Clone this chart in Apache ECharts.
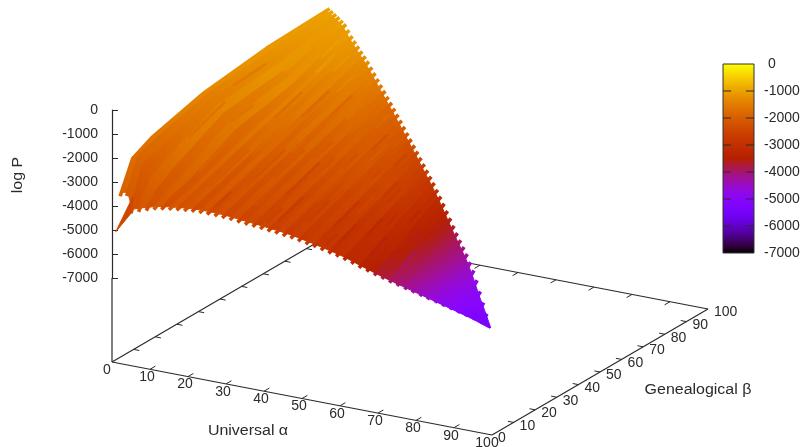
<!DOCTYPE html>
<html><head><meta charset="utf-8">
<style>html,body{margin:0;padding:0;background:#fff}#c{width:806px;height:447px}</style>
<script src="https://cdn.jsdelivr.net/npm/echarts@6/dist/echarts.min.js"></script>
</head><body><div id="c"></div>
<script>
// ---- values ----
const alphaTicks=[0,10,20,30,40,50,60,70,80,90,100];
const betaTicks=[0,10,20,30,40,50,60,70,80,90,100];
const logPTicks=[0,-1000,-2000,-3000,-4000,-5000,-6000,-7000];
// each streak is one universal-alpha value, running from its start beta up to beta = 100 - alpha
const streakAlpha=[1,3,5,7,9,11,13,15,17,19,21,23,25,27,29,31,33,35,37,39,41,43,45,47,49,51,53,55,57,59,61,63,65,67,69,71,73,75,77,79,81,83,85,87,89,91,93,95,97,99];
const streakBetaStart=[2,1.5];
const logPKnotAt=[0,.06,.15,.4,.7,1];
const streakLogP=[
[-3670,-2400,-2000,-1400,-1060,-950],[-3570,-2204,-1946,-1325,-1075,-900],[-4150,-2440,-2181,-1385,-1173,-850],
[-4030,-2999,-2520,-1575,-1329,-810],[-3920,-3346,-2858,-1804,-1488,-785],[-3820,-3488,-3158,-2037,-1646,-770],
[-3750,-3504,-3287,-2304,-1800,-850],[-3700,-3550,-3380,-2620,-1900,-930],[-3660,-3499,-3258,-2588,-1784,-980],
[-3630,-3474,-3240,-2590,-1810,-1030],[-3600,-3448,-3220,-2588,-1829,-1070],[-3590,-3442,-3219,-2600,-1858,-1115],
[-3590,-3444,-3226,-2618,-1889,-1160],[-3600,-3458,-3246,-2656,-1948,-1240],[-3620,-3482,-3275,-2700,-2010,-1320],
[-3640,-3506,-3304,-2744,-2072,-1400],[-3680,-3548,-3350,-2800,-2140,-1480],[-3710,-3581,-3388,-2850,-2205,-1560],
[-3740,-3614,-3425,-2900,-2270,-1640],[-3770,-3647,-3463,-2950,-2335,-1720],[-3810,-3689,-3509,-3006,-2403,-1800],
[-3840,-3723,-3547,-3058,-2472,-1885],[-3880,-3765,-3594,-3116,-2543,-1970],[-3920,-3808,-3641,-3176,-2618,-2060],
[-3980,-3871,-3706,-3250,-2703,-2155],[-4040,-3932,-3771,-3322,-2784,-2245],[-4100,-3994,-3836,-3396,-2868,-2340],
[-4170,-4066,-3909,-3474,-2952,-2430],[-4240,-4137,-3983,-3554,-3040,-2525],[-4310,-4209,-4057,-3634,-3127,-2620],
[-4390,-4290,-4139,-3720,-3218,-2715],[-4490,-4389,-4238,-3818,-3314,-2810],[-4600,-4498,-4345,-3920,-3410,-2900],
[-4690,-4590,-4440,-4022,-3521,-3020],[-4790,-4691,-4543,-4130,-3635,-3140],[-4880,-4783,-4639,-4236,-3753,-3270],
[-4970,-4876,-4736,-4346,-3878,-3410],[-5050,-4960,-4825,-4450,-4000,-3550],[-5130,-5044,-4914,-4554,-4122,-3690],
[-5210,-5127,-5003,-4658,-4244,-3830],[-5290,-5210,-5091,-4758,-4359,-3960],[-5370,-5293,-5177,-4854,-4467,-4080],
[-5450,-5375,-5263,-4950,-4575,-4200],[-5530,-5461,-5358,-5070,-4725,-4380],[-5610,-5547,-5453,-5190,-4875,-4560],
[-5690,-5637,-5557,-5334,-5067,-4800],[-5770,-5730,-5670,-5502,-5301,-5100],[-5850,-5823,-5783,-5670,-5535,-5400],
[-5950,-5935,-5913,-5850,-5775,-5700],[-6050,-6048,-6046,-6044,-6042,-6040]];
const toneKnotAt=[0,.33,.66,1];
const streakTone=[
[-1950,-1480,-1180,-1000],[-2050,-1620,-1250,-1000],[-2300,-1700,-1330,-1020],[-2150,-1560,-1190,-1040],[-2280,-1790,-1420,-1000],
[-2100,-1700,-1280,-1080],[-2320,-1950,-1520,-1030],[-2120,-1780,-1400,-1090],[-2250,-2000,-1500,-1120],[-2180,-1830,-1600,-1180],
[-2380,-2080,-1490,-1200],[-2220,-1900,-1680,-1280],[-2420,-2130,-1720,-1300],[-2300,-2020,-1610,-1390],[-2480,-2210,-1850,-1420],
[-2350,-2060,-1740,-1530],[-2520,-2290,-1930,-1560],[-2420,-2150,-1860,-1680],[-2580,-2360,-2030,-1700],[-2470,-2240,-1960,-1820],
[-2640,-2430,-2120,-1840],[-2550,-2320,-2060,-1960],[-2720,-2510,-2210,-1980],[-2640,-2420,-2160,-2090],[-2800,-2600,-2340,-2130],
[-2720,-2520,-2280,-2260],[-2920,-2730,-2480,-2300],[-2850,-2680,-2450,-2430],[-3060,-2900,-2660,-2480],[-3010,-2860,-2620,-2610],
[-3230,-3080,-2850,-2680],[-3200,-3060,-2890,-2790],[-3450,-3240,-3060,-2880],[-3480,-3300,-3120,-3030],[-3720,-3510,-3330,-3120],
[-3790,-3560,-3400,-3280],[-3980,-3750,-3560,-3430],[-4080,-3840,-3660,-3560],[-4250,-4000,-3830,-3680],[-4380,-4150,-3960,-3840],
[-4520,-4290,-4100,-3950],[-4640,-4440,-4240,-4100],[-4800,-4600,-4400,-4220],[-4900,-4750,-4560,-4400],[-5000,-4860,-4720,-4580],
[-5100,-5000,-4880,-4780],[-5200,-5100,-5000,-4950],[-5300,-5230,-5150,-5100],[-5400,-5360,-5320,-5280],[-5500,-5500,-5480,-5460]];
// darker and lighter flecks lying along the streaks
const fleckRow=[3,5,6,8,9,10,11,13,14,14,15,16,17,18,18,19,20,21,22,22,23,24,25,26,26,27,28,29,30,30,31,32,33,34,35,36,4,7,12,2,16,20,24,28,12,9,6,19,23,27];
const fleckStart=[.25,.4,.2,.55,.15,.35,.62,.2,.45,.7,.3,.12,.5,.25,.72,.4,.08,.55,.3,.75,.15,.48,.62,.2,.8,.38,.1,.58,.28,.7,.45,.15,.6,.3,.5,.2,.7,.8,.8,.5,.75,.85,.85,.6,.05,.85,.85,.05,.7,.05];
const fleckLength=[.18,.12,.2,.15,.22,.14,.16,.25,.1,.15,.2,.18,.12,.24,.14,.16,.2,.12,.22,.13,.19,.15,.1,.25,.12,.17,.2,.14,.18,.16,.13,.22,.15,.2,.12,.24,.14,.1,.12,.16,.12,.1,.1,.14,.1,.1,.1,.12,.15,.12];
const fleckShift=[-320,-260,200,-340,-280,170,-300,-360,220,-250,-310,160,-270,-330,190,-290,-350,-240,210,-300,-320,180,-260,-340,-230,200,-310,-280,-350,170,-260,-330,-290,210,-320,-270,240,230,220,-280,240,250,230,-240,-300,260,240,-300,220,-260];
// the small spike at the low-alpha, low-beta corner
const tipAlpha=[1,5,5];
const tipBeta=[0,0,1];
const tipLogP=[-5040,-4150,-3490];
const tipTone=-2450;

// ---- view of the 3D box ----
const FONT='14px "Liberation Sans", Arial, sans-serif';
const INK='#2a2a2a';
const Z_BASE=-10500;
function project(a,b,z){return [112+3.8*a+2.16*b,110+0.73*a-1.26*b-0.024*z];}
function palette(c){
  const x=Math.max(0,Math.min(1,(c+7000)/7000));
  const r=Math.sqrt(x),g=x*x*x,b=Math.max(0,Math.sin(2*Math.PI*x));
  return 'rgb('+Math.round(r*255)+','+Math.round(g*255)+','+Math.round(b*255)+')';
}
const idx=a=>a.map((_,i)=>[i,0]);

function lineEl(api,p,q,w,color){
  const A=api.coord(p),B=api.coord(q);
  return {type:'line',shape:{x1:A[0],y1:A[1],x2:B[0],y2:B[1]},style:{stroke:color||INK,lineWidth:w||1,fill:null}};
}
function textEl(api,p,text,align){
  const A=api.coord(p);
  return {type:'text',style:{x:A[0],y:A[1],text:text,fill:INK,font:FONT,align:align||'center',verticalAlign:'middle'}};
}

const frameCorners=[[0,0],[100,0],[100,100],[0,100]];
function renderFrame(params,api){
  const i=params.dataIndex,kids=[];
  const c=frameCorners[i],d=frameCorners[(i+1)%4];
  kids.push(lineEl(api,project(c[0],c[1],Z_BASE),project(d[0],d[1],Z_BASE),1.2));
  if(i===0) kids.push(lineEl(api,project(0,0,Z_BASE),project(0,0,-7000),1.2));
  return {type:'group',children:kids};
}
function renderAlphaTick(params,api){
  const a=alphaTicks[params.dataIndex];
  const p=project(a,0,Z_BASE),kids=[];
  if(a>0&&a<100){
    kids.push(lineEl(api,p,project(a,2.5,Z_BASE)));
    kids.push(lineEl(api,project(a,100,Z_BASE),project(a,97.5,Z_BASE)));
  }
  kids.push(textEl(api,[p[0]-(a===0?5:a===100?5:3),p[1]+8],String(a)));
  return {type:'group',children:kids};
}
function renderBetaTick(params,api){
  const b=betaTicks[params.dataIndex];
  const p=project(100,b,Z_BASE),kids=[];
  if(b>0&&b<100){
    kids.push(lineEl(api,p,project(98.5,b,Z_BASE)));
    kids.push(lineEl(api,project(0,b,Z_BASE),project(1.5,b,Z_BASE)));
  }
  kids.push(textEl(api,[p[0]+6,p[1]+3.5],String(b),'left'));
  return {type:'group',children:kids};
}
function streakPoints(api,i){
  const a=streakAlpha[i],b0=streakBetaStart[i]||0,b1=100-a;
  return streakLogP[i].map((z,k)=>api.coord(project(a,b0+(b1-b0)*logPKnotAt[k],z)));
}
function streakFill(pts,i){
  const S=pts[0],E=pts[pts.length-1];
  const stops=streakTone[i].map((c,k)=>({offset:toneKnotAt[k],color:palette(c)}));
  return new echarts.graphic.LinearGradient(S[0],S[1],E[0]+.01,E[1]+.01,stops,true);
}
// pull both ends of a streak in, so the streak tips stand out as teeth along the sheet's edges
function trimmed(pts,d){
  const out=pts.map(p=>p.slice()),n=pts.length;
  const pull=(to,from,onto)=>{
    const dx=onto[0]-from[0],dy=onto[1]-from[1],L=Math.hypot(dx,dy)||1,t=Math.min(d,L*.4)/L;
    to[0]=from[0]+dx*t;to[1]=from[1]+dy*t;
  };
  pull(out[0],pts[0],pts[1]);
  pull(out[n-1],pts[n-1],pts[n-2]);
  return out;
}
function renderBand(params,api){
  const i=params.dataIndex;
  if(i+1>=streakAlpha.length) return null;
  const P=streakPoints(api,i);
  const A=trimmed(P,4),Q=trimmed(streakPoints(api,i+1),4).reverse();
  const g=streakFill(P,i);
  return {type:'polygon',shape:{points:A.concat(Q)},style:{fill:g,stroke:g,lineWidth:1}};
}
function renderStreak(params,api){
  const i=params.dataIndex,pts=streakPoints(api,i);
  return {type:'polyline',shape:{points:pts},style:{
    fill:null,lineWidth:3.6,lineCap:'butt',lineJoin:'round',stroke:streakFill(pts,i)}};
}
function lerpKnots(ks,vs,f){
  for(let k=1;k<ks.length;k++){ if(f<=ks[k]){const t=(f-ks[k-1])/(ks[k]-ks[k-1]);return vs[k-1]+(vs[k]-vs[k-1])*t;} }
  return vs[vs.length-1];
}
function renderFleck(params,api){
  const k=params.dataIndex,i=fleckRow[k],f0=fleckStart[k],f1=Math.min(1,f0+fleckLength[k]);
  const pts=streakPoints(api,i);
  const at=f=>[lerpKnots(logPKnotAt,pts.map(p=>p[0]),f),lerpKnots(logPKnotAt,pts.map(p=>p[1]),f)];
  const tone=lerpKnots(toneKnotAt,streakTone[i],(f0+f1)/2)+fleckShift[k];
  const A=at(f0),B=at(f1);
  return {type:'line',shape:{x1:A[0],y1:A[1],x2:B[0],y2:B[1]},style:{stroke:palette(tone),lineWidth:2.6,opacity:.5,fill:null}};
}
function renderTip(params,api){
  const pts=tipAlpha.map((a,k)=>api.coord(project(a,tipBeta[k],tipLogP[k])));
  return {type:'polygon',shape:{points:pts},style:{fill:palette(tipTone),stroke:palette(tipTone),lineWidth:1}};
}
function renderBar(params,api){
  const A=api.coord([0,0]),B=api.coord([1,-7000]);
  const stops=[];
  for(let c=0;c>=-7000;c-=250)stops.push({offset:-c/7000,color:palette(c)});
  const kids=[{type:'rect',shape:{x:A[0],y:A[1],width:B[0]-A[0],height:B[1]-A[1]},style:{
    stroke:'#333',lineWidth:1,
    fill:new echarts.graphic.LinearGradient(0,A[1],0,B[1],stops,true)}}];
  logPTicks.slice(1,-1).forEach(v=>{
    kids.push(lineEl(api,[0,v],[0.26,v],1,'#2a2a2a'));
    kids.push(lineEl(api,[0.74,v],[1,v],1,'#2a2a2a'));
  });
  return {type:'group',children:kids};
}
const custom=(name,data,fn)=>({type:'custom',name,xAxisIndex:0,yAxisIndex:0,clip:false,silent:true,data,renderItem:fn});
const chart=echarts.init(document.getElementById('c'),null,{renderer:'canvas'});
const title=(x,y,text,rot)=>({type:'text',x,y,rotation:rot||0,scaleX:1.14,style:{x:0,y:0,text,font:FONT,fill:INK,align:'center',verticalAlign:'middle'}});
chart.setOption({
  animation:false,backgroundColor:'#fff',tooltip:{show:false},
  grid:[
    {left:0,top:0,width:806,height:447},
    {left:723,top:64,width:31,height:189},
    {left:112,top:110,width:1,height:168}
  ],
  xAxis:[
    {gridIndex:0,type:'value',min:0,max:806,show:false},
    {gridIndex:1,type:'value',min:0,max:1,show:false},
    {gridIndex:2,type:'value',min:0,max:1,show:false}
  ],
  yAxis:[
    {gridIndex:0,type:'value',min:0,max:447,inverse:true,show:false},
    {gridIndex:1,type:'value',min:-7000,max:0,interval:1000,position:'right',
      axisLine:{show:false},splitLine:{show:false},axisTick:{show:false},
      axisLabel:{show:true,margin:10,color:INK,fontFamily:'Liberation Sans',fontSize:14,align:'left',
        formatter:v=>v===0?'\u00A00':String(v)}},
    {gridIndex:2,type:'value',min:-7000,max:0,interval:1000,position:'left',
      axisLine:{show:true,onZero:false,lineStyle:{color:INK,width:1.2}},splitLine:{show:false},
      axisTick:{show:true,inside:true,length:6,lineStyle:{color:INK}},
      axisLabel:{show:true,margin:14,color:INK,fontFamily:'Liberation Sans',fontSize:14,
        formatter:v=>String(v)}}
  ],
  series:[
    custom('frame',idx(frameCorners),renderFrame),
    custom('alpha ticks',idx(alphaTicks),renderAlphaTick),
    custom('beta ticks',idx(betaTicks),renderBetaTick),
    custom('surface bands',idx(streakAlpha),renderBand),
    custom('surface streaks',idx(streakAlpha),renderStreak),
    custom('surface flecks',idx(fleckRow),renderFleck),
    custom('tip',[[0,0]],renderTip),
    {type:'custom',name:'colorbar',xAxisIndex:1,yAxisIndex:1,silent:true,data:[[0,0]],renderItem:renderBar}
  ],
  graphic:[
    title(18,175,'log P',Math.PI/2),
    title(248,431,'Universal \u03B1'),
    title(698,390,'Genealogical \u03B2')
  ]
});
</script></body></html>
